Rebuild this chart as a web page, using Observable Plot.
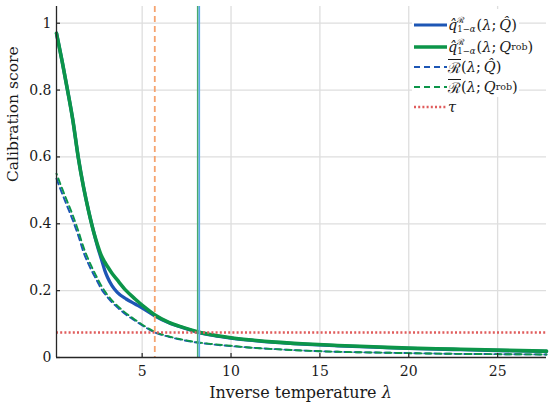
<!DOCTYPE html>
<html><head><meta charset="utf-8">
<script src="https://cdn.jsdelivr.net/npm/d3@7"></script>
<script src="https://cdn.jsdelivr.net/npm/@observablehq/plot@0.6"></script>
<style>
body{margin:0;background:#fff;}
#wrap{position:relative;width:550px;height:407px;font-family:"DejaVu Serif",serif;color:#1a1a1a;}
#wrap svg{display:block;}
#legbox{position:absolute;left:412px;top:9px;width:107px;height:88px;background:#fff;}
.row{position:absolute;left:414px;height:20px;display:flex;align-items:center;font-size:14.5px;white-space:nowrap;}
.row svg{margin-right:1px;}
.ss{display:inline-flex;flex-direction:column;font-size:8.5px;line-height:9px;margin:0 1px 0 0;}
.ol{text-decoration:overline;}
.sp{display:inline-block;width:3px;}
sup{font-size:9.5px;vertical-align:6px;line-height:0;}
#xlab{position:absolute;left:0;width:601px;top:383px;text-align:center;font-size:16px;white-space:nowrap;}
</style>
</head><body>
<div id="wrap">
<div id="chart"></div>
<div id="xlab">Inverse temperature <i>λ</i></div>
<div id="legbox"></div>
<div class="row" style="top:15px"><svg width="33" height="6"><line x1="0" y1="3" x2="33" y2="3" stroke="#1d56b5" stroke-width="3"/></svg><i>q̂</i><span class="ss"><span>ℛ</span><span>1−<i>α</i></span></span>(<i>λ</i>;<span class="sp"></span><i>Q̂</i>)</div>
<div class="row" style="top:36.5px"><svg width="33" height="6"><line x1="0" y1="3" x2="33" y2="3" stroke="#0c9549" stroke-width="3.5"/></svg><i>q̂</i><span class="ss"><span>ℛ</span><span>1−<i>α</i></span></span>(<i>λ</i>;<span class="sp"></span><i>Q</i><sup>rob</sup>)</div>
<div class="row" style="top:56.5px"><svg width="33" height="6"><line x1="0" y1="3" x2="33" y2="3" stroke="#1d56b5" stroke-width="2" stroke-dasharray="6,4"/></svg><span class="ol">ℛ</span>(<i>λ</i>;<span class="sp"></span><i>Q̂</i>)</div>
<div class="row" style="top:77px"><svg width="33" height="6"><line x1="0" y1="3" x2="33" y2="3" stroke="#0c9549" stroke-width="2" stroke-dasharray="6,4"/></svg><span class="ol">ℛ</span>(<i>λ</i>;<span class="sp"></span><i>Q</i><sup>rob</sup>)</div>
<div class="row" style="top:96.5px"><svg width="33" height="6"><line x1="0" y1="3" x2="33" y2="3" stroke="#e05c5c" stroke-width="2.5" stroke-dasharray="2,2.2"/></svg><i>τ</i></div>
</div>
<script>
const lambda = [0.18, 0.5, 0.8, 1.1, 1.4, 1.7, 2.0, 2.3, 2.5, 2.7, 2.9, 3.05, 3.3, 3.6, 4.1, 4.6, 5.1, 5.7, 6.5, 7.3, 8.17, 9, 10, 11, 12.5, 14, 16, 18, 20, 22.5, 25, 27.75];
const qHat = [0.97, 0.885, 0.80, 0.71, 0.60, 0.51, 0.435, 0.37, 0.33, 0.295, 0.26, 0.24, 0.215, 0.195, 0.175, 0.16, 0.145, 0.125, 0.104, 0.089, 0.075, 0.066, 0.058, 0.052, 0.045, 0.04, 0.035, 0.031, 0.027, 0.024, 0.021, 0.018];
const qRob = [0.97, 0.885, 0.80, 0.71, 0.60, 0.51, 0.435, 0.37, 0.335, 0.305, 0.285, 0.272, 0.252, 0.232, 0.20, 0.175, 0.152, 0.128, 0.105, 0.09, 0.076, 0.067, 0.059, 0.053, 0.046, 0.041, 0.036, 0.032, 0.028, 0.025, 0.022, 0.019];
const rHat = [0.535, 0.49, 0.45, 0.41, 0.365, 0.315, 0.277, 0.245, 0.225, 0.205, 0.19, 0.18, 0.165, 0.15, 0.128, 0.11, 0.093, 0.075, 0.062, 0.052, 0.044, 0.039, 0.034, 0.03, 0.025, 0.021, 0.017, 0.015, 0.013, 0.011, 0.010, 0.009];
const rRob = [0.55, 0.505, 0.465, 0.425, 0.38, 0.33, 0.29, 0.256, 0.235, 0.215, 0.198, 0.187, 0.171, 0.155, 0.132, 0.113, 0.095, 0.077, 0.063, 0.053, 0.045, 0.04, 0.035, 0.03, 0.025, 0.021, 0.017, 0.015, 0.013, 0.011, 0.010, 0.009];
const tau = [0.075];
const lambdaR = [5.71];
const lambdaQ = [8.17];
const xTicks = [5, 10, 15, 20, 25];
const yTicks = [0, 0.2, 0.4, 0.6, 0.8, 1];
const yTickLabels = ["0", "0.2", "0.4", "0.6", "0.8", "1"];
const xDomain = [0.18, 27.75];
const yDomain = [0, 1.05];

const rows = v => lambda.map((l, i) => ({l, v: v[i]}));
const W = 550, H = 407, mL = 56, mR = 4, mT = 6, mB = 50;
const axisColor = "#262626", gridColor = "#dedede";
const plot = Plot.plot({
  width: W, height: H, marginLeft: mL, marginRight: mR, marginTop: mT, marginBottom: mB,
  x: {domain: xDomain}, y: {domain: yDomain},
  style: {fontFamily: "DejaVu Serif, serif", fontSize: "14px", color: "#1a1a1a", background: "white"},
  marks: [
    Plot.gridX(xTicks, {stroke: gridColor, strokeOpacity: 1, strokeWidth: 1.3}),
    Plot.gridY(yTicks.slice(1), {stroke: gridColor, strokeOpacity: 1, strokeWidth: 1.3}),
    Plot.line(rows(qHat), {x: "l", y: "v", stroke: "#1d56b5", strokeWidth: 3.3, curve: "monotone-x"}),
    Plot.line(rows(qRob), {x: "l", y: "v", stroke: "#0c9549", strokeWidth: 3.6, curve: "monotone-x"}),
    Plot.line(rows(rHat), {x: "l", y: "v", stroke: "#1d56b5", strokeWidth: 1.9, strokeDasharray: "6,4", curve: "monotone-x"}),
    Plot.line(rows(rRob), {x: "l", y: "v", stroke: "#0c9549", strokeWidth: 1.9, strokeDasharray: "6,4", strokeDashoffset: 5, curve: "monotone-x"}),
    Plot.ruleY(tau, {stroke: "#e05c5c", strokeWidth: 2.5, strokeDasharray: "2,2.2"}),
    Plot.ruleX(lambdaR, {stroke: "#f5a36f", strokeWidth: 1.8, strokeDasharray: "6,4"}),
    Plot.ruleX(lambdaQ, {stroke: "#47ab6d", strokeWidth: 1.6, dx: -0.8}),
    Plot.ruleX(lambdaQ, {stroke: "#5ca8e8", strokeWidth: 1.6, dx: 0.8}),
    Plot.ruleX([xDomain[0]], {stroke: axisColor, strokeWidth: 1.3}),
    Plot.ruleY([yDomain[0]], {stroke: axisColor, strokeWidth: 1.3}),
    Plot.tickY(yTicks, {y: d => d, stroke: axisColor, strokeWidth: 1.2, insetRight: W - mL - mR - 4}),
    Plot.tickX(xTicks, {x: d => d, stroke: axisColor, strokeWidth: 1.2, insetTop: H - mT - mB - 4}),
    Plot.axisX(xTicks, {tickSize: 0, tickPadding: 9, label: null, fontSize: 14}),
    Plot.axisY(yTicks, {tickSize: 0, tickPadding: 5, label: null, fontSize: 14, tickFormat: (d, i) => yTickLabels[i]}),
    Plot.text(["Calibration score"], {frameAnchor: "left", dx: -43, rotate: -90, fontSize: 15.5, text: d => d, lineAnchor: "middle"})
  ]
});
document.getElementById("chart").appendChild(plot);
</script>
</body></html>
